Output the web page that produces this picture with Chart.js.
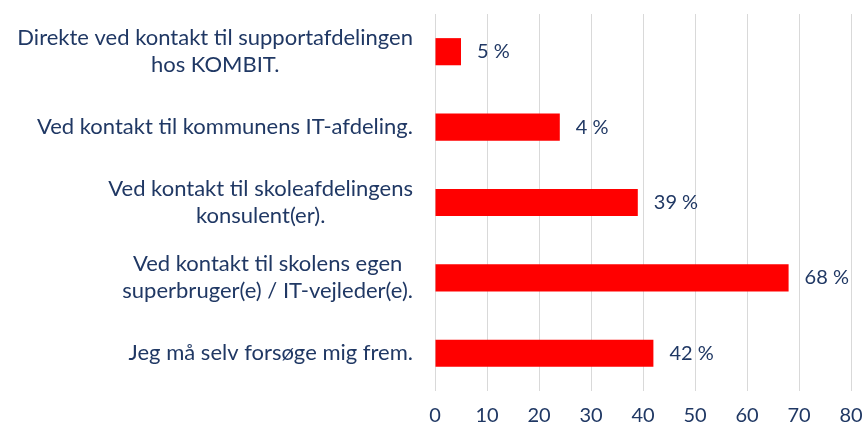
<!DOCTYPE html>
<html lang="da">
<head>
    <meta charset="UTF-8">
    <script src="https://cdn.jsdelivr.net/npm/chart.js"></script>
    <title>Kontakt</title>
    <style>
        body { margin: 0; background: #fff; overflow: hidden; }
        canvas { display: block; }
    </style>
</head>
<body>
<canvas id="myChart" width="864" height="432"></canvas>
<script>
    // data
    const categories = [
        ['Direkte ved kontakt til supportafdelingen', 'hos KOMBIT.'],
        ['Ved kontakt til kommunens IT-afdeling.'],
        ['Ved kontakt til skoleafdelingens', 'konsulent(er).'],
        ['Ved kontakt til skolens egen', 'superbruger(e) / IT-vejleder(e).'],
        ['Jeg må selv forsøge mig frem.']
    ];
    const values = [5, 24, 39, 68, 42];
    const valueLabels = ['5 %', '4 %', '39 %', '68 %', '42 %'];
    const xTicks = [0, 10, 20, 30, 40, 50, 60, 70, 80];

    const navy = '#203864';
    const fontFamily = 'Lato, "Liberation Sans", sans-serif';

    // category labels drawn as centred blocks, right-aligned to the axis
    const catLabels = {
        id: 'catLabels',
        afterDraw(chart) {
            const ctx = chart.ctx;
            const y = chart.scales.y;
            const right = chart.chartArea.left - 22;
            const lineH = 27;
            ctx.save();
            ctx.font = '22px ' + fontFamily;
            ctx.fillStyle = navy;
            ctx.textBaseline = 'middle';
            ctx.textAlign = 'center';
            categories.forEach((lines, i) => {
                const cy = y.getPixelForValue(i);
                const w = Math.max(...lines.map(l => ctx.measureText(l).width));
                const cx = right - w / 2;
                const top = cy - (lines.length - 1) * lineH / 2;
                lines.forEach((l, j) => ctx.fillText(l, cx, top + j * lineH));
            });
            ctx.restore();
        }
    };

    // value labels after each bar
    const barLabels = {
        id: 'barLabels',
        afterDatasetsDraw(chart) {
            const ctx = chart.ctx;
            const meta = chart.getDatasetMeta(0);
            ctx.save();
            ctx.font = '20px ' + fontFamily;
            ctx.fillStyle = navy;
            ctx.textBaseline = 'middle';
            ctx.textAlign = 'left';
            meta.data.forEach((bar, i) => {
                ctx.fillText(valueLabels[i], bar.x + 16, bar.y);
            });
            ctx.restore();
        }
    };

    new Chart(document.getElementById('myChart'), {
        type: 'bar',
        data: {
            labels: categories.map(c => c.join(' ')),
            datasets: [{
                data: values,
                backgroundColor: '#ff0000',
                borderWidth: 0,
                categoryPercentage: 1,
                barPercentage: 0.36
            }]
        },
        options: {
            indexAxis: 'y',
            responsive: false,
            animation: false,
            devicePixelRatio: 1,
            layout: {
                autoPadding: false,
                padding: { left: 427, right: 13, top: 14, bottom: -9 }
            },
            plugins: {
                legend: { display: false },
                tooltip: { enabled: false }
            },
            scales: {
                x: {
                    min: 0,
                    max: 80,
                    afterBuildTicks: axis => { axis.ticks = xTicks.map(v => ({ value: v })); },
                    afterFit: axis => { axis.paddingLeft = 0; axis.paddingRight = 0; },
                    grid: { color: '#d9d9d9', lineWidth: 1, drawTicks: false },
                    border: { display: false },
                    ticks: {
                        color: navy,
                        font: { family: fontFamily, size: 20 },
                        padding: 13,
                        maxRotation: 0
                    }
                },
                y: {
                    grid: { display: false },
                    border: { display: false },
                    ticks: { display: false }
                }
            }
        },
        plugins: [catLabels, barLabels]
    });
</script>
</body>
</html>
